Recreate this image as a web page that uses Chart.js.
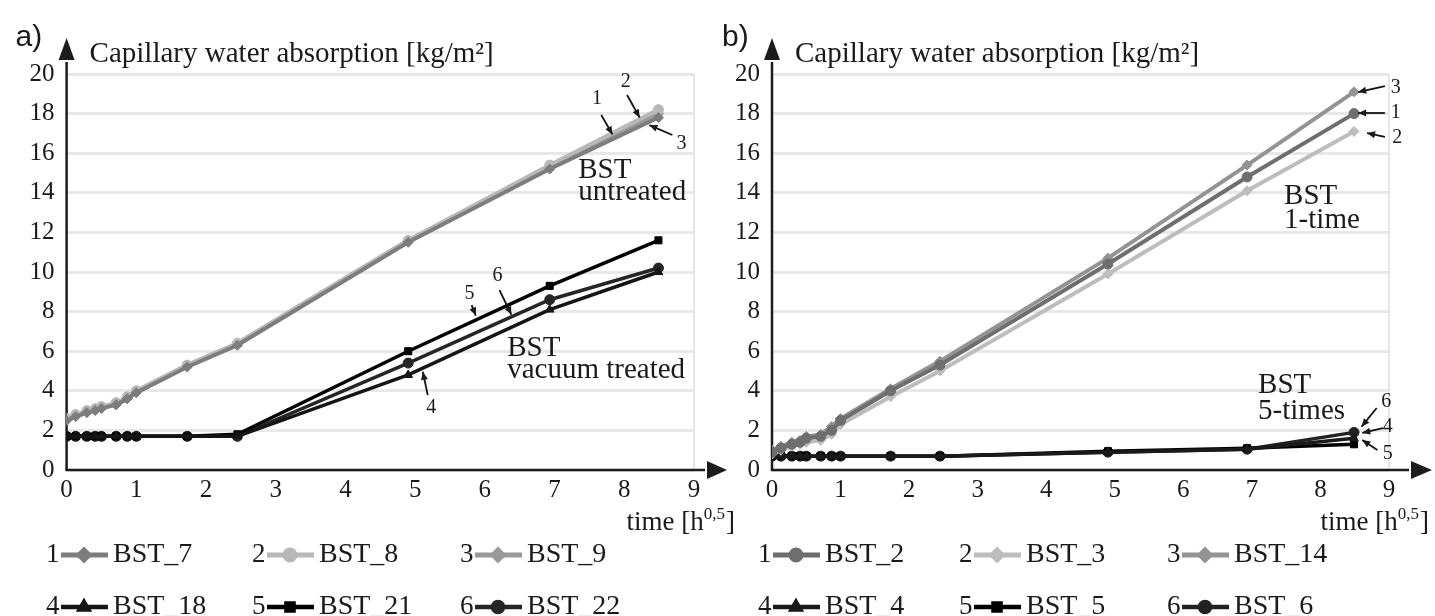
<!DOCTYPE html>
<html><head><meta charset="utf-8">
<script src="https://cdn.jsdelivr.net/npm/chart.js@4.4.0/dist/chart.umd.min.js"></script>
<style>
html,body{margin:0;padding:0;background:#fff;}
#wrap{position:relative;width:1435px;height:616px;overflow:hidden;background:#fff;}
canvas{position:absolute;top:0;}
</style></head><body>
<div id="wrap">
<canvas id="ca" width="740" height="616" style="left:0px;width:740px;height:616px"></canvas>
<canvas id="cb" width="718" height="616" style="left:717px;width:718px;height:616px"></canvas>
</div>
<script>
// ---------- DATA ----------
const TIMES = [0, 0.13, 0.29, 0.41, 0.5, 0.71, 0.87, 1, 1.73, 2.45, 4.9, 6.93, 8.49];
const X_TICKS = [0, 1, 2, 3, 4, 5, 6, 7, 8, 9];
const Y_TICKS = [0, 2, 4, 6, 8, 10, 12, 14, 16, 18, 20];

const LABELS_A = ['BST_7', 'BST_8', 'BST_9', 'BST_18', 'BST_21', 'BST_22'];
const BST_7  = [2.5, 2.7, 2.9, 3.0, 3.1, 3.3, 3.6, 3.9, 5.2, 6.3, 11.5, 15.2, 17.8];
const BST_8  = [2.6, 2.8, 3.0, 3.1, 3.2, 3.4, 3.7, 4.0, 5.3, 6.4, 11.6, 15.4, 18.2];
const BST_9  = [2.5, 2.7, 2.9, 3.1, 3.2, 3.3, 3.6, 4.0, 5.3, 6.4, 11.6, 15.3, 18.0];
const BST_18 = [1.7, 1.7, 1.7, 1.7, 1.7, 1.7, 1.7, 1.7, 1.7, 1.7, 4.8, 8.1, 10.0];
const BST_21 = [1.7, 1.7, 1.7, 1.7, 1.7, 1.7, 1.7, 1.7, 1.7, 1.8, 6.0, 9.3, 11.6];
const BST_22 = [1.7, 1.7, 1.7, 1.7, 1.7, 1.7, 1.7, 1.7, 1.7, 1.7, 5.4, 8.6, 10.2];

const LABELS_B = ['BST_2', 'BST_3', 'BST_14', 'BST_4', 'BST_5', 'BST_6'];
const BST_2  = [0.9, 1.1, 1.3, 1.4, 1.6, 1.7, 2.0, 2.5, 4.0, 5.3, 10.4, 14.8, 18.0];
const BST_3  = [0.8, 1.0, 1.2, 1.3, 1.4, 1.5, 1.8, 2.3, 3.7, 5.0, 9.9, 14.1, 17.1];
const BST_14 = [1.0, 1.2, 1.4, 1.5, 1.7, 1.8, 2.2, 2.6, 4.1, 5.5, 10.7, 15.4, 19.1];
const BST_4  = [0.7, 0.7, 0.7, 0.7, 0.7, 0.7, 0.7, 0.7, 0.7, 0.7, 0.9, 1.05, 1.6];
const BST_5  = [0.7, 0.7, 0.7, 0.7, 0.7, 0.7, 0.7, 0.7, 0.7, 0.7, 0.95, 1.1, 1.3];
const BST_6  = [0.7, 0.7, 0.7, 0.7, 0.7, 0.7, 0.7, 0.7, 0.7, 0.7, 0.9, 1.05, 1.9];

const Y_TITLE = 'Capillary water absorption [kg/m²]';
const X_TITLE = 'time [h';
const X_TITLE_SUP = '0,5';
const X_TITLE_END = ']';

// ---------- STYLES ----------
const SERIF = '"Liberation Serif", "Times New Roman", serif';
const SANS = '"Liberation Sans", Arial, sans-serif';
const STYLE_A = [
  {color: '#7d7d7d', point: 'rectRot', r: 5, w: 4},
  {color: '#b8b8b8', point: 'circle', r: 5, w: 4},
  {color: '#999999', point: 'rectRot', r: 5, w: 4},
  {color: '#151515', point: 'triangle', r: 5, w: 3.5},
  {color: '#000000', point: 'rect', r: 5, w: 3.5},
  {color: '#262626', point: 'circle', r: 5, w: 3.5}
];
const STYLE_B = [
  {color: '#6e6e6e', point: 'circle', r: 5, w: 4},
  {color: '#bdbdbd', point: 'rectRot', r: 5, w: 4},
  {color: '#939393', point: 'rectRot', r: 5, w: 4},
  {color: '#1a1a1a', point: 'triangle', r: 5, w: 3.5},
  {color: '#000000', point: 'rect', r: 5, w: 3.5},
  {color: '#222222', point: 'circle', r: 5, w: 3.5}
];

// annotation texts / arrows in data units
const NOTES_A = [
  {x: 7.34, y: 15.15, t: 'BST'}, {x: 7.34, y: 14.04, t: 'untreated'},
  {x: 6.32, y: 6.16, t: 'BST'}, {x: 6.32, y: 5.05, t: 'vacuum treated'}
];
const ARROWS_A = [
  {n: '1', lx: 7.61, ly: 18.75, tx: 7.67, ty: 17.93, hx: 7.83, hy: 16.95},
  {n: '2', lx: 8.02, ly: 19.6, tx: 8.04, ty: 18.94, hx: 8.22, hy: 17.8},
  {n: '3', lx: 8.82, ly: 16.5, tx: 8.69, ty: 16.92, hx: 8.36, hy: 17.42},
  {n: '5', lx: 5.78, ly: 8.9, tx: 5.81, ty: 8.33, hx: 5.87, hy: 7.8},
  {n: '6', lx: 6.18, ly: 9.8, tx: 6.21, ty: 9.09, hx: 6.38, hy: 7.85},
  {n: '4', lx: 5.23, ly: 3.15, tx: 5.18, ty: 3.79, hx: 5.11, hy: 4.96}
];
const NOTES_B = [
  {x: 7.47, y: 13.84, t: 'BST'}, {x: 7.47, y: 12.63, t: '1-time'},
  {x: 7.09, y: 4.29, t: 'BST'}, {x: 7.09, y: 2.94, t: '5-times'}
];
const ARROWS_B = [
  {n: '3', lx: 9.1, ly: 19.29, tx: 8.94, ty: 19.39, hx: 8.55, hy: 19.09},
  {n: '1', lx: 9.1, ly: 18.03, tx: 8.94, ty: 18.03, hx: 8.55, hy: 18.03},
  {n: '2', lx: 9.12, ly: 16.77, tx: 8.94, ty: 16.82, hx: 8.68, hy: 17.02},
  {n: '6', lx: 8.96, ly: 3.45, tx: 8.82, ty: 3.13, hx: 8.6, hy: 2.19},
  {n: '4', lx: 8.98, ly: 2.19, tx: 8.91, ty: 2.12, hx: 8.61, hy: 1.87},
  {n: '5', lx: 8.98, ly: 0.8, tx: 8.83, ty: 1.01, hx: 8.61, hy: 1.52}
];

// ---------- PLUGIN ----------
function arrowHead(ctx, x1, y1, x2, y2, len, half) {
  const ang = Math.atan2(y2 - y1, x2 - x1);
  ctx.beginPath();
  ctx.moveTo(x2, y2);
  ctx.lineTo(x2 - len * Math.cos(ang) + half * Math.sin(ang), y2 - len * Math.sin(ang) - half * Math.cos(ang));
  ctx.lineTo(x2 - len * Math.cos(ang) - half * Math.sin(ang), y2 - len * Math.sin(ang) + half * Math.cos(ang));
  ctx.closePath();
  ctx.fill();
}

const deco = {
  id: 'deco',
  beforeDatasetsDraw(chart, args, o) {
    const {ctx, chartArea: a} = chart;
    ctx.save();
    ctx.strokeStyle = '#1c1c1c'; ctx.fillStyle = '#1c1c1c'; ctx.lineWidth = 2.5;
    ctx.beginPath(); ctx.moveTo(a.left, a.bottom + 1); ctx.lineTo(a.left, a.top - o.yArrowBase + 2); ctx.stroke();
    ctx.beginPath(); ctx.moveTo(a.left, a.top - o.yArrowTip);
    ctx.lineTo(a.left - 8, a.top - o.yArrowBase); ctx.lineTo(a.left + 8, a.top - o.yArrowBase); ctx.closePath(); ctx.fill();
    ctx.beginPath(); ctx.moveTo(a.left - 1, a.bottom); ctx.lineTo(a.right + o.xArrowBase - 2, a.bottom); ctx.stroke();
    ctx.beginPath(); ctx.moveTo(a.right + o.xArrowTip, a.bottom);
    ctx.lineTo(a.right + o.xArrowBase, a.bottom - 9); ctx.lineTo(a.right + o.xArrowBase, a.bottom + 9); ctx.closePath(); ctx.fill();
    ctx.restore();
  },
  afterDatasetsDraw(chart, args, o) {
    const {ctx} = chart;
    const xs = chart.scales.x, ys = chart.scales.y;
    ctx.save();
    ctx.fillStyle = '#1a1a1a';
    ctx.textAlign = 'left'; ctx.textBaseline = 'middle';
    ctx.font = `29px ${SERIF}`;
    o.notes.forEach(n => ctx.fillText(n.t, xs.getPixelForValue(n.x), ys.getPixelForValue(n.y)));
    ctx.font = `20px ${SERIF}`;
    ctx.textAlign = 'center';
    ctx.strokeStyle = '#111'; ctx.lineWidth = 1.8;
    o.arrows.forEach(r => {
      const x1 = xs.getPixelForValue(r.tx), y1 = ys.getPixelForValue(r.ty);
      const x2 = xs.getPixelForValue(r.hx), y2 = ys.getPixelForValue(r.hy);
      ctx.beginPath(); ctx.moveTo(x1, y1); ctx.lineTo(x2, y2); ctx.stroke();
      arrowHead(ctx, x1, y1, x2, y2, 8, 3.5);
      ctx.fillText(r.n, xs.getPixelForValue(r.lx), ys.getPixelForValue(r.ly));
    });
    ctx.restore();
  },
  afterDraw(chart, args, o) {
    const {ctx, chartArea: a} = chart;
    ctx.save();
    ctx.fillStyle = '#1a1a1a';
    ctx.textBaseline = 'middle'; ctx.textAlign = 'left';
    ctx.font = `30px ${SANS}`;
    ctx.fillText(o.letter, a.left + o.letterDx, a.top - 36);
    ctx.font = `29px ${SERIF}`;
    ctx.fillText(Y_TITLE, a.left + 23, a.top - 20);
    ctx.font = `27px ${SERIF}`;
    const w1 = ctx.measureText(X_TITLE).width;
    const w3 = ctx.measureText(X_TITLE_END).width;
    ctx.font = `17px ${SERIF}`;
    const w2 = ctx.measureText(X_TITLE_SUP).width;
    const xr = a.right + o.xTitleDx;
    let x = xr - (w1 + w2 + w3 + 1);
    const yb = a.bottom + 53;
    ctx.font = `27px ${SERIF}`;
    ctx.fillText(X_TITLE, x, yb); x += w1;
    ctx.font = `17px ${SERIF}`;
    ctx.fillText(X_TITLE_SUP, x, yb - 8); x += w2 + 1;
    ctx.font = `27px ${SERIF}`;
    ctx.fillText(X_TITLE_END, x, yb);
    chart.data.datasets.forEach((d, i) => {
      const row = Math.floor(i / 3), col = i % 3;
      const lx = o.legendCols[col], ly = o.legendRows[row];
      ctx.font = `27px ${SERIF}`;
      ctx.fillStyle = '#1a1a1a';
      ctx.textAlign = 'left';
      ctx.fillText(String(i + 1), lx, ly);
      ctx.strokeStyle = d.borderColor; ctx.lineWidth = d.borderWidth + 1;
      ctx.beginPath(); ctx.moveTo(lx + 15, ly); ctx.lineTo(lx + 62, ly); ctx.stroke();
      ctx.fillStyle = d.pointBackgroundColor; ctx.strokeStyle = d.borderColor;
      Chart.helpers.drawPoint(ctx, {pointStyle: d.pointStyle, radius: d.pointRadius, rotation: 0, borderWidth: 1}, lx + 38, ly);
      ctx.fillStyle = '#1a1a1a';
      ctx.font = `28px ${SERIF}`;
      ctx.fillText(d.label, lx + 67, ly);
    });
    ctx.restore();
  }
};

// ---------- BUILD ----------
function buildDatasets(labels, series, styles) {
  return labels.map((lab, i) => ({
    label: lab,
    data: TIMES.map((t, k) => ({x: t, y: series[i][k]})),
    borderColor: styles[i].color,
    backgroundColor: styles[i].color,
    pointBackgroundColor: styles[i].color,
    pointBorderColor: styles[i].color,
    pointStyle: styles[i].point,
    pointRadius: styles[i].r,
    pointBorderWidth: 1,
    borderWidth: styles[i].w,
    tension: 0,
    fill: false
  }));
}

function makeChart(id, labels, series, styles, yWidth, padRight, deco_o) {
  return new Chart(document.getElementById(id), {
    type: 'line',
    data: {datasets: buildDatasets(labels, series, styles)},
    plugins: [deco],
    options: {
      responsive: false,
      animation: false,
      devicePixelRatio: 1,
      layout: {padding: {left: 0, right: padRight, top: 74, bottom: 106}},
      plugins: {legend: {display: false}, tooltip: {enabled: false}, deco: deco_o},
      scales: {
        x: {
          type: 'linear', min: X_TICKS[0], max: X_TICKS[X_TICKS.length - 1],
          afterBuildTicks: s => { s.ticks = X_TICKS.map(v => ({value: v})); },
          ticks: {font: {family: SERIF, size: 25}, color: '#1a1a1a', padding: 5, maxRotation: 0, autoSkip: false},
          grid: {drawTicks: false, lineWidth: 2, color: c => (c.tick && c.tick.value === 9) ? '#e6e6e6' : 'rgba(0,0,0,0)'},
          border: {display: false},
          afterFit: s => { s.height = 40; }
        },
        y: {
          min: Y_TICKS[0], max: Y_TICKS[Y_TICKS.length - 1],
          afterBuildTicks: s => { s.ticks = Y_TICKS.map(v => ({value: v})); },
          ticks: {font: {family: SERIF, size: 25}, color: '#1a1a1a', padding: 12, autoSkip: false},
          grid: {drawTicks: false, lineWidth: 3, color: '#e8e8e8'},
          border: {display: false},
          afterFit: s => { s.width = yWidth; }
        }
      }
    }
  });
}

makeChart('ca', LABELS_A, [BST_7, BST_8, BST_9, BST_18, BST_21, BST_22], STYLE_A, 66.6, 46, {
  letter: 'a)', letterDx: -51, notes: NOTES_A, arrows: ARROWS_A,
  yArrowTip: 36, yArrowBase: 14, xArrowBase: 13, xArrowTip: 33, xTitleDx: 41,
  legendCols: [46, 252, 460], legendRows: [555, 607]
});
makeChart('cb', LABELS_B, [BST_2, BST_3, BST_14, BST_4, BST_5, BST_6], STYLE_B, 55, 46, {
  letter: 'b)', letterDx: -50, notes: NOTES_B, arrows: ARROWS_B,
  yArrowTip: 36, yArrowBase: 14, xArrowBase: 22, xArrowTip: 43, xTitleDx: 40,
  legendCols: [41, 242, 450], legendRows: [555, 607]
});
</script>
</body></html>
